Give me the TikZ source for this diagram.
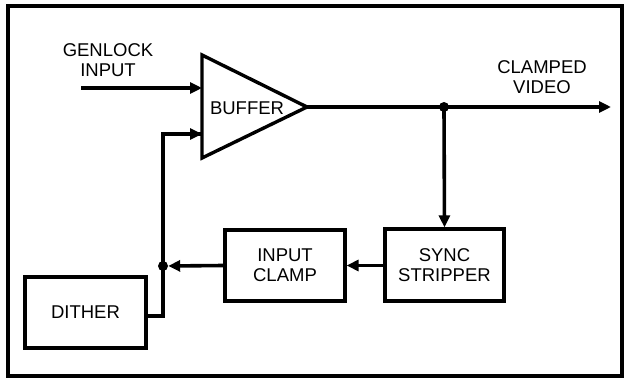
\documentclass[tikz,border=0pt]{standalone}
\usepackage{fontspec}
\setmainfont{Liberation Sans}
\usetikzlibrary{arrows.meta}
\begin{document}
\begin{tikzpicture}[x=1pt,y=-1pt,
  wire/.style={line width=3.6pt},
  sig/.style={wire,-{Triangle[length=12pt,width=11pt]}},
  blk/.style={draw,line width=3.2pt,minimum width=#1,inner sep=0pt,align=center,font=\fontsize{18.5}{20}\selectfont},
  lbl/.style={align=center,inner sep=0pt,font=\fontsize{18.5}{20}\selectfont},
  dotc/.style={circle,fill,inner sep=0pt,minimum size=10pt}]
\useasboundingbox (0,0) rectangle (625,380);
\draw[line width=3.5pt] (8,6) rectangle (622,376);
% amplifier
\coordinate (ttop) at (202,55);
\coordinate (tbot) at (202,158);
\coordinate (tapx) at (307,107);
\draw[line width=3.4pt,line join=miter] (ttop) -- (tapx) -- (tbot) -- cycle;
\node[lbl] (buf) at (247,108) {BUFFER};
% labels
\node[lbl] (genl) at (108,60) {GENLOCK\\INPUT};
\node[lbl] (clv) at (542,77) {CLAMPED\\VIDEO};
% boxes
\node[blk=119pt,minimum height=72pt] (sync) at (444.5,265) {SYNC\\STRIPPER};
\node[blk=120pt,minimum height=71pt] (clamp) at (285,265.5) {INPUT\\CLAMP};
\node[blk=121pt,minimum height=71pt] (dith) at (85.5,312.5) {DITHER};
% coordinates
\coordinate (gin) at (81,88);
\coordinate (in1) at (202,88);
\coordinate (in2) at (202,134);
\coordinate (outend) at (611,107);
\node[dotc] (jout) at (444,107) {};
\node[dotc] (jfb) at (163,266) {};
% connectors
\draw[sig] (gin) -- (in1);
\draw[sig] (tapx) -- (outend);
\draw[sig] (jout.center) -- (sync.north);
\draw[sig] (sync.west |- clamp.east) -- (clamp.east);
\draw[sig] (clamp.west) -- (jfb.east);
\draw[wire] (dith.east |- 0,316) -| (jfb.center) -- (163,134) -- (in2);
\draw[sig] (163,134) -- (in2);
\end{tikzpicture}
\end{document}
